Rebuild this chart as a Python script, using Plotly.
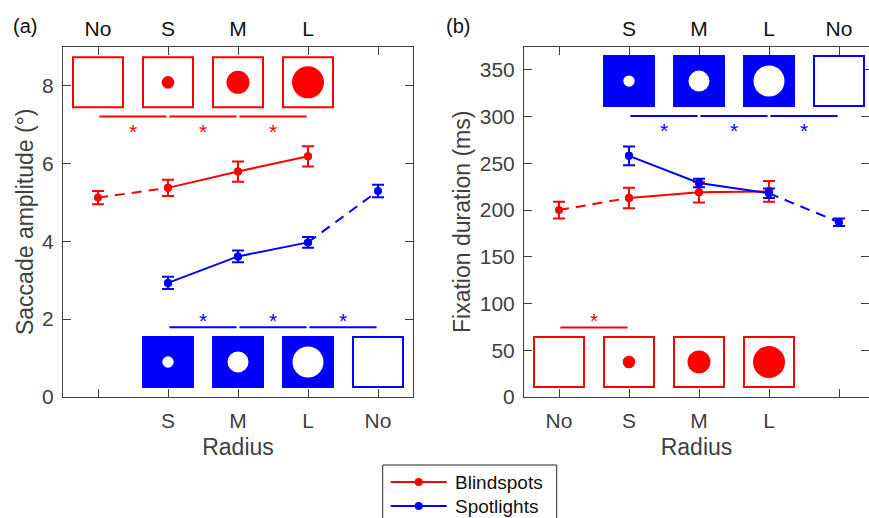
import plotly.graph_objects as go

# ---------------- data ----------------
# Panel (a): saccade amplitude (deg)
a_red_labels = ["No", "S", "M", "L"]          # Blindspots (top axis)
a_red_vals = [5.12, 5.37, 5.79, 6.18]
a_red_err = [0.17, 0.21, 0.26, 0.26]
a_blue_labels = ["S", "M", "L", "No"]         # Spotlights (bottom axis)
a_blue_vals = [2.93, 3.61, 3.97, 5.29]
a_blue_err = [0.16, 0.15, 0.14, 0.16]

# Panel (b): fixation duration (ms)
b_red_labels = ["No", "S", "M", "L"]          # Blindspots (bottom axis)
b_red_vals = [200, 213, 219, 220]
b_red_err = [9, 11, 11, 11]
b_blue_labels = ["S", "M", "L", "No"]         # Spotlights (top axis)
b_blue_vals = [258, 229, 218, 187]
b_blue_err = [10, 4.5, 5, 4]

legend_names = ["Blindspots", "Spotlights"]

RED = "#FF0000"
BLUE = "#0000FF"
AX = "#404040"
FONT = "Liberation Sans, Arial, sans-serif"

W, H = 869, 518


def px(v, total):
    return v / total


fig = go.Figure()

pos_red_a = [0, 1, 2, 3]
pos_blue_a = [1, 2, 3, 4]
pos_red_b = [0, 1, 2, 3]
pos_blue_b = [1, 2, 3, 4]


def add_series(xs, ys, err, color, xaxis, yaxis, dashed_first, name):
    fig.add_trace(go.Scatter(
        x=xs, y=ys, mode="markers", xaxis=xaxis, yaxis=yaxis,
        marker=dict(color=color, size=8),
        error_y=dict(type="data", array=err, color=color, thickness=2, width=6),
        showlegend=False, hoverinfo="skip"))
    if dashed_first:
        solid_x, solid_y = xs[1:], ys[1:]
        dash_x, dash_y = xs[:2], ys[:2]
    else:
        solid_x, solid_y = xs[:3], ys[:3]
        dash_x, dash_y = xs[2:], ys[2:]
    fig.add_trace(go.Scatter(
        x=dash_x, y=dash_y, mode="lines", xaxis=xaxis, yaxis=yaxis,
        line=dict(color=color, width=2, dash="10px,7px"),
        showlegend=False, hoverinfo="skip"))
    fig.add_trace(go.Scatter(
        x=solid_x, y=solid_y, mode="lines+markers", xaxis=xaxis, yaxis=yaxis,
        line=dict(color=color, width=2), marker=dict(color=color, size=8),
        name=name, showlegend=False))


add_series(pos_red_a, a_red_vals, a_red_err, RED, "x3", "y", True, legend_names[0])
add_series(pos_blue_a, a_blue_vals, a_blue_err, BLUE, "x", "y", False, legend_names[1])
add_series(pos_red_b, b_red_vals, b_red_err, RED, "x2", "y2", True, legend_names[0])
add_series(pos_blue_b, b_blue_vals, b_blue_err, BLUE, "x4", "y2", False, legend_names[1])

# ---------------- icons & significance marks ----------------
shapes = []
annotations = []


def icon(xref, yref, xc, yc, edge, fill, r, dotcolor):
    shapes.append(dict(type="rect", xref=xref, yref=yref,
                       xsizemode="pixel", ysizemode="pixel",
                       xanchor=xc, yanchor=yc, x0=-25, x1=25, y0=-25, y1=25,
                       line=dict(color=edge, width=2), fillcolor=fill, layer="above"))
    if r > 0:
        shapes.append(dict(type="circle", xref=xref, yref=yref,
                           xsizemode="pixel", ysizemode="pixel",
                           xanchor=xc, yanchor=yc, x0=-r, x1=r, y0=-r, y1=r,
                           line=dict(width=0), fillcolor=dotcolor, layer="above"))


red_r = {"No": 0, "S": 6.3, "M": 11.5, "L": 16}
blue_r = {"No": 0, "S": 5.7, "M": 10.5, "L": 15.5}

for p, lab in zip(pos_red_a, a_red_labels):
    icon("x", "y", p, 8.08, RED, "white", red_r[lab], RED)
for p, lab in zip(pos_blue_a, a_blue_labels):
    if lab == "No":
        icon("x", "y", p, 0.90, BLUE, "white", 0, BLUE)
    else:
        icon("x", "y", p, 0.90, BLUE, BLUE, blue_r[lab], "white")
for p, lab in zip(pos_blue_b, b_blue_labels):
    if lab == "No":
        icon("x2", "y2", p, 338, BLUE, "white", 0, BLUE)
    else:
        icon("x2", "y2", p, 338, BLUE, BLUE, blue_r[lab], "white")
for p, lab in zip(pos_red_b, b_red_labels):
    icon("x2", "y2", p, 37.5, RED, "white", red_r[lab], RED)


def sig(xref, yref, x0, x1, yl, ys, color):
    shapes.append(dict(type="line", xref=xref, yref=yref, x0=x0 + 0.02, x1=x1 - 0.02,
                       y0=yl, y1=yl, line=dict(color=color, width=2)))
    annotations.append(dict(x=(x0 + x1) / 2, y=ys, xref=xref, yref=yref, text="*",
                            showarrow=False, font=dict(color=color, size=21, family=FONT),
                            xanchor="center", yanchor="middle", yshift=-3))


for i in range(3):
    sig("x", "y", pos_red_a[i], pos_red_a[i + 1], 7.2, 6.9, RED)
    sig("x", "y", pos_blue_a[i], pos_blue_a[i + 1], 1.79, 2.04, BLUE)
    sig("x2", "y2", pos_blue_b[i], pos_blue_b[i + 1], 300.6, 288, BLUE)
sig("x2", "y2", pos_red_b[0], pos_red_b[1], 74.3, 84.6, RED)

# panel labels
for lab, xc in [("(a)", 24.5), ("(b)", 457.5)]:
    annotations.append(dict(x=px(xc, W), y=1 - px(26, H), xref="paper", yref="paper",
                            text=lab, showarrow=False, xanchor="center", yanchor="middle",
                            font=dict(size=20, color="#111", family=FONT)))

# ---------------- manual legend (box is cut by the figure edge) ----------------
lg_x0, lg_x1, lg_top = 382.7, 556.7, 465
shapes.append(dict(type="rect", xref="paper", yref="paper",
                   x0=px(lg_x0, W), x1=px(lg_x1, W), y0=1 - px(lg_top, H), y1=-0.05,
                   line=dict(color="#262626", width=1), fillcolor="white", layer="above"))
for name, color, yy in zip(legend_names, [RED, BLUE], [482, 506]):
    shapes.append(dict(type="line", xref="paper", yref="paper",
                       x0=px(390.7, W), x1=px(446.7, W), y0=1 - px(yy, H), y1=1 - px(yy, H),
                       line=dict(color=color, width=2), layer="above"))
    shapes.append(dict(type="circle", xref="paper", yref="paper",
                       xsizemode="pixel", ysizemode="pixel",
                       xanchor=px(418.7, W), yanchor=1 - px(yy, H), x0=-4, x1=4, y0=-4, y1=4,
                       line=dict(width=0), fillcolor=color, layer="above"))
    annotations.append(dict(x=px(453, W), y=1 - px(yy, H), xref="paper", yref="paper",
                            text=name, showarrow=False, xanchor="left", yanchor="middle",
                            font=dict(size=19, color="#111", family=FONT)))

ydom = [1 - px(397, H), 1 - px(46.5, H)]
xdom_a = [px(63, W), px(413, W)]
xdom_b = [px(524, W), 1.0]
rng_b = [-0.5, -0.5 + (W - 524) / 70.0]

tick_common = dict(ticks="inside", ticklen=8, tickwidth=1, tickcolor=AX,
                   showline=True, linecolor=AX, linewidth=1, showgrid=False,
                   zeroline=False, automargin=False)

fig.update_layout(
    width=W, height=H, margin=dict(l=0, r=0, t=0, b=0),
    paper_bgcolor="white", plot_bgcolor="white",
    font=dict(family=FONT, color=AX), showlegend=False,
    xaxis=dict(domain=xdom_a, anchor="y", range=[-0.5, 4.5],
               tickvals=[0, 1, 2, 3, 4], ticktext=[""] + a_blue_labels,
               tickfont=dict(size=21, color=AX), ticklabelstandoff=5,
               title=dict(text="Radius", font=dict(size=23, color=AX), standoff=7),
               **tick_common),
    xaxis3=dict(overlaying="x", side="top", anchor="y", range=[-0.5, 4.5],
                tickvals=[0, 1, 2, 3, 4], ticktext=a_red_labels + [""],
                tickfont=dict(size=21, color="#111"), ticklabelstandoff=1, **tick_common),
    yaxis=dict(domain=ydom, anchor="x", range=[0, 9], tickvals=[0, 2, 4, 6, 8],
               tickfont=dict(size=21, color=AX), mirror="ticks", ticklabelstandoff=4,
               title=dict(text="Saccade amplitude (°)", font=dict(size=23, color=AX), standoff=2),
               **tick_common),
    xaxis2=dict(domain=xdom_b, anchor="y2", range=rng_b,
                tickvals=[0, 1, 2, 3, 4], ticktext=b_red_labels + [""],
                tickfont=dict(size=21, color=AX), ticklabelstandoff=5,
                title=dict(text="Radius", font=dict(size=23, color=AX), standoff=7),
                **tick_common),
    xaxis4=dict(overlaying="x2", side="top", anchor="y2", range=rng_b,
                tickvals=[0, 1, 2, 3, 4], ticktext=[""] + b_blue_labels,
                tickfont=dict(size=21, color="#111"), ticklabelstandoff=1, **tick_common),
    yaxis2=dict(domain=ydom, anchor="x2", range=[0, 375],
                tickvals=[0, 50, 100, 150, 200, 250, 300, 350],
                tickfont=dict(size=21, color=AX), mirror="ticks", ticklabelstandoff=4,
                title=dict(text="Fixation duration (ms)", font=dict(size=23, color=AX), standoff=2),
                **tick_common),
    shapes=shapes, annotations=annotations,
)

fig.write_html("out.html")
